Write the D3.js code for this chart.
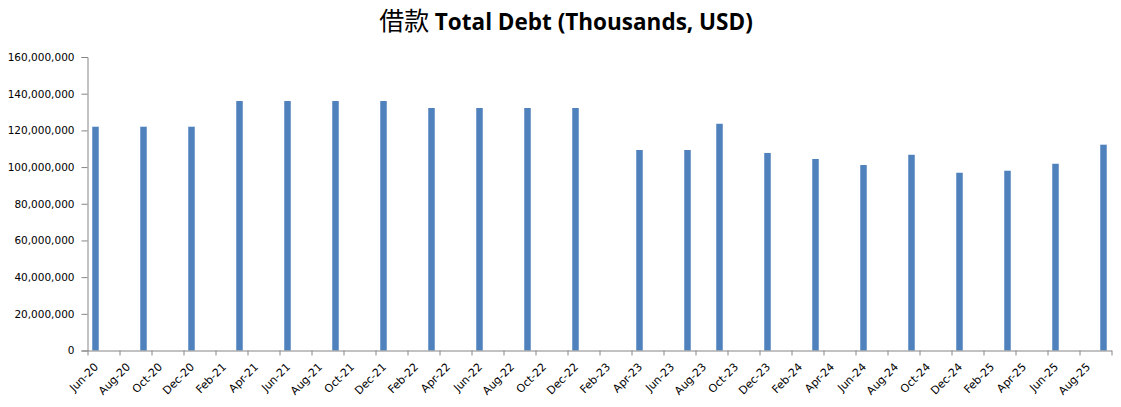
<!DOCTYPE html>
<meta charset="utf-8">
<script src="https://d3js.org/d3.v7.min.js"></script>
<style>
    body { margin: 0; background: #fff; }
    text { font-family: "DejaVu Sans", sans-serif; }
</style>
<body>
<div id="chart"></div>
</body>
<script>
    // quarter points (month of report) and total debt in thousands USD
    const periods = ["2020-06", "2020-09", "2020-12", "2021-03", "2021-06", "2021-09", "2021-12",
        "2022-03", "2022-06", "2022-09", "2022-12", "2023-04", "2023-07", "2023-09", "2023-12",
        "2024-03", "2024-06", "2024-09", "2024-12", "2025-03", "2025-06", "2025-09"];
    const totalDebt = [122000000, 122000000, 122000000, 136000000, 136000000, 136000000, 136000000,
        132200000, 132200000, 132200000, 132200000, 109300000, 109300000, 123600000, 107700000,
        104400000, 101100000, 106700000, 96900000, 98000000, 101800000, 112200000];
    const yTicks = [0, 20000000, 40000000, 60000000, 80000000, 100000000, 120000000, 140000000, 160000000];
    const axisStart = "2020-06";
    const axisEnd = "2025-10";

    const W = 1121, H = 407;
    const margin = {top: 57, right: 9.5, bottom: 56.5, left: 87.5};

    const parseMonth = d3.utcParse("%Y-%m");
    const start = parseMonth(axisStart);
    const end = parseMonth(axisEnd);
    const nMonths = d3.utcMonth.count(start, end);
    const fmt = d3.utcFormat("%b-%y");

    const data = periods.map((p, i) => ({
        idx: d3.utcMonth.count(start, parseMonth(p)),
        value: totalDebt[i]
    }));

    const svg = d3.select("#chart").append("svg")
        .attr("width", W)
        .attr("height", H);

    const x = d3.scaleLinear()
        .domain([0, nMonths])
        .range([margin.left, W - margin.right]);

    const y = d3.scaleLinear()
        .domain([0, 160000000])
        .range([H - margin.bottom, margin.top]);

    // y axis
    const yAxis = svg.append("g")
        .attr("transform", "translate(" + margin.left + ",0)")
        .call(d3.axisLeft(y).tickValues(yTicks).tickSize(6).tickPadding(7).tickFormat(d3.format(",")));
    yAxis.selectAll("path, line").attr("stroke", "#868686");
    yAxis.selectAll("text").style("font-size", "10.5px").attr("fill", "#000");

    // bars
    const barW = 6.5;
    svg.selectAll(".bar")
        .data(data)
        .enter()
        .append("rect")
        .attr("class", "bar")
        .attr("x", d => x(d.idx + 0.5) - barW / 2)
        .attr("width", barW)
        .attr("y", d => y(d.value))
        .attr("height", d => y(0) - y(d.value))
        .attr("fill", "#4F81BD");

    // x axis
    const xAxis = svg.append("g")
        .attr("transform", "translate(0," + y(0) + ")")
        .call(d3.axisBottom(x)
            .tickValues(d3.range(0, nMonths + 1, 2))
            .tickSize(5)
            .tickSizeOuter(0)
            .tickFormat(i => i < nMonths ? fmt(d3.utcMonth.offset(start, i)) : ""));
    xAxis.selectAll("path, line").attr("stroke", "#868686");
    xAxis.selectAll("text")
        .style("font-size", "11px")
        .attr("fill", "#000")
        .attr("text-anchor", "end")
        .attr("dy", null)
        .attr("y", 0)
        .attr("transform", "translate(11,17) rotate(-45)");

    // title
    const title = svg.append("text")
        .attr("x", 566)
        .attr("y", 30)
        .attr("text-anchor", "middle")
        .style("font-size", "22.5px");
    title.append("tspan")
        .style("font-family", "'Noto Sans CJK SC', sans-serif")
        .style("font-size", "25px")
        .text("借款 ");
    title.append("tspan")
        .style("font-family", "'Open Sans', sans-serif")
        .style("font-weight", "bold")
        .text("Total Debt (Thousands, USD)");
</script>
</html>
